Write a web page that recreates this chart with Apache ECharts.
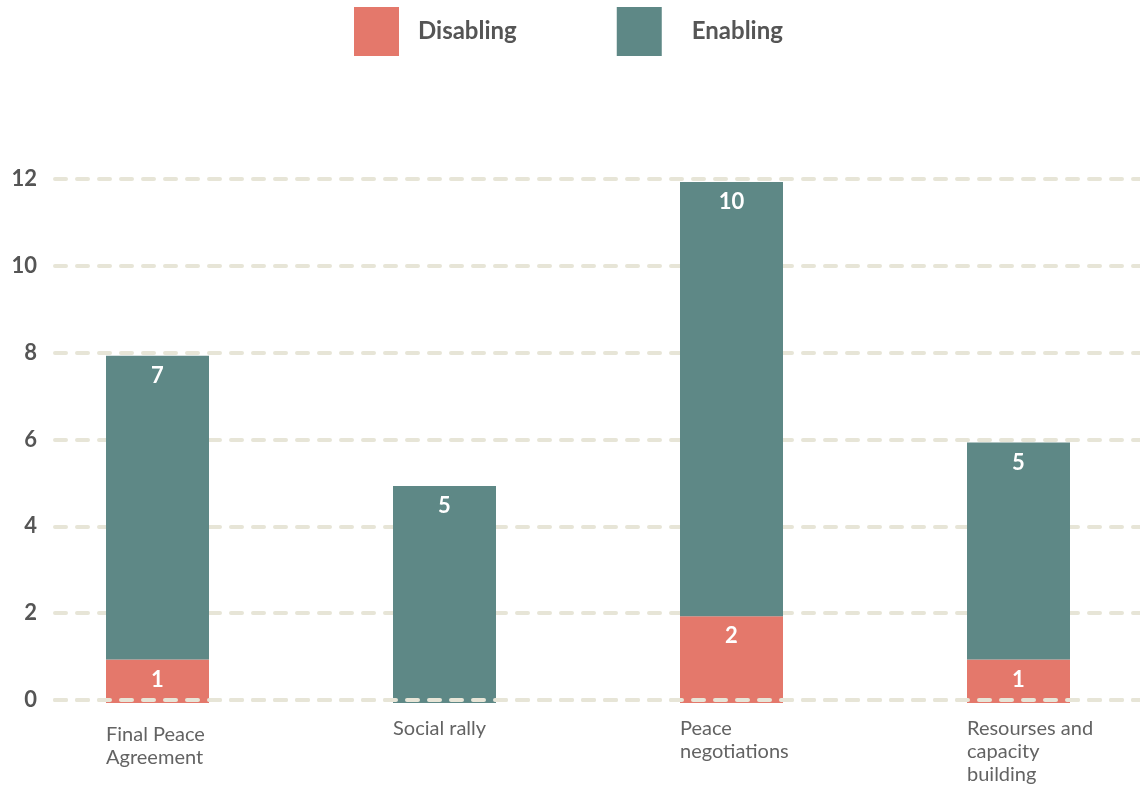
<!DOCTYPE html>
<html>
<head>
<meta charset="utf-8">
<script src="https://cdn.jsdelivr.net/npm/echarts@6/dist/echarts.min.js"></script>
<style>
  html, body { margin: 0; padding: 0; background: #ffffff; }
  #chart { width: 1140px; height: 786px; }
</style>
</head>
<body>
<div id="chart"></div>
<script>
// Categories and their wrapped tick labels
const categories = ['Final Peace Agreement', 'Social rally', 'Peace negotiations', 'Resourses and capacity building'];
const categoryLabels = ['Final Peace\nAgreement', 'Social rally', 'Peace\nnegotiations', 'Resourses and\ncapacity\nbuilding'];

// Series values
const disabling = [1, 0, 2, 1];
const enabling = [7, 5, 10, 5];

// Value axis ticks
const yTicks = [0, 2, 4, 6, 8, 10, 12];

const FONT = 'Lato, "Open Sans", sans-serif';
const GRID_COLOR = '#e7e5d7';
const dashed = { color: GRID_COLOR, width: 4, type: [11, 11], cap: 'round' };

const chart = echarts.init(document.getElementById('chart'), null, { renderer: 'canvas' });

const barLabel = {
  show: true,
  position: 'insideTop',
  distance: 9,
  color: '#ffffff',
  fontFamily: FONT,
  fontWeight: 'bold',
  fontSize: 22,
  formatter: p => (p.value ? String(p.value) : '')
};

const yMin = yTicks[0];
const yMax = yTicks[yTicks.length - 1];
const yStep = yTicks[1] - yTicks[0];

const labelText = {
  fontFamily: FONT, fontSize: 20, lineHeight: 23, color: '#636363',
  align: 'left', verticalAlign: 'top'
};

chart.setOption({
  backgroundColor: '#ffffff',
  animation: false,
  legend: {
    data: [
      { name: 'Disabling' },
      { name: 'Enabling', textStyle: { padding: [0, 0, 0, 25] } }
    ],
    left: 354,
    top: 7,
    padding: 0,
    icon: 'rect',
    itemWidth: 45,
    itemHeight: 49,
    itemGap: 100,
    selectedMode: false,
    textStyle: {
      fontFamily: FONT,
      fontWeight: 'bold',
      fontSize: 24,
      color: '#555555',
      padding: [0, 0, 0, 14]
    }
  },
  grid: [
    // gridlines and value labels
    { left: 55, right: 0, top: 179, bottom: 86, outerBoundsMode: 'none' },
    // bars
    { left: 14, width: 1148, top: 182, bottom: 83, outerBoundsMode: 'none' },
    // category labels, aligned to the left edge of each bar
    { left: -37.5, width: 1148, top: 179, bottom: 86, outerBoundsMode: 'none' }
  ],
  xAxis: [
    {
      gridIndex: 0, type: 'category', data: categories, z: 5,
      axisLine: { show: true, lineStyle: dashed },
      axisTick: { show: false }, axisLabel: { show: false }, splitLine: { show: false }
    },
    {
      gridIndex: 1, type: 'category', data: categories,
      axisLine: { show: false }, axisTick: { show: false }, axisLabel: { show: false }
    },
    {
      gridIndex: 2, type: 'category',
      // the first label sits a little lower than the others
      data: categoryLabels.map((v, i) => (i === 0
        ? { value: v, textStyle: Object.assign({ padding: [6, 0, 0, 0] }, labelText) }
        : v)),
      axisLine: { show: false }, axisTick: { show: false },
      axisLabel: Object.assign({
        show: true,
        interval: 0,
        margin: 17
      }, labelText)
    }
  ],
  yAxis: [
    {
      gridIndex: 0, type: 'value', min: yMin, max: yMax, interval: yStep,
      axisLine: { show: false }, axisTick: { show: false },
      axisLabel: {
        margin: 18,
        fontFamily: FONT,
        fontWeight: 'bold',
        fontSize: 22,
        color: '#555555'
      },
      splitLine: { show: true, lineStyle: dashed }
    },
    {
      gridIndex: 1, type: 'value', min: yMin, max: yMax, interval: yStep,
      axisLine: { show: false }, axisTick: { show: false }, axisLabel: { show: false }, splitLine: { show: false }
    },
    {
      gridIndex: 2, type: 'value', min: yMin, max: yMax, interval: yStep, show: false
    }
  ],
  series: [
    {
      name: 'Disabling',
      type: 'bar',
      stack: 'total',
      xAxisIndex: 1,
      yAxisIndex: 1,
      barWidth: 103,
      itemStyle: { color: '#e4786b' },
      label: barLabel,
      data: disabling
    },
    {
      name: 'Enabling',
      type: 'bar',
      stack: 'total',
      xAxisIndex: 1,
      yAxisIndex: 1,
      barWidth: 103,
      itemStyle: { color: '#5e8886' },
      label: barLabel,
      data: enabling
    }
  ]
});
</script>
</body>
</html>
